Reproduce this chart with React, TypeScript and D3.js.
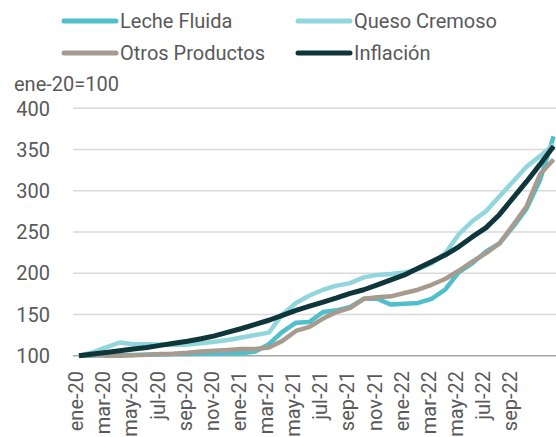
import React, { useEffect, useRef } from 'react';
import * as d3 from 'd3';

// meses ene-20 .. dic-22
const months = [
  'ene-20', 'feb-20', 'mar-20', 'abr-20', 'may-20', 'jun-20', 'jul-20', 'ago-20', 'sep-20', 'oct-20', 'nov-20', 'dic-20',
  'ene-21', 'feb-21', 'mar-21', 'abr-21', 'may-21', 'jun-21', 'jul-21', 'ago-21', 'sep-21', 'oct-21', 'nov-21', 'dic-21',
  'ene-22', 'feb-22', 'mar-22', 'abr-22', 'may-22', 'jun-22', 'jul-22', 'ago-22', 'sep-22', 'oct-22', 'nov-22', 'dic-22',
];

// etiquetas del eje x (cada dos meses, hasta sep-22 como en el original)
const xTickLabels = [
  'ene-20', 'mar-20', 'may-20', 'jul-20', 'sep-20', 'nov-20',
  'ene-21', 'mar-21', 'may-21', 'jul-21', 'sep-21', 'nov-21',
  'ene-22', 'mar-22', 'may-22', 'jul-22', 'sep-22',
];

const lecheFluida = [
  100, 100, 101, 101, 101, 101.5, 101.5, 102, 102, 102.5, 102.5, 103,
  103, 105, 114, 129, 140, 141, 153, 155, 159, 169, 169, 162,
  163, 164, 169, 180, 201, 212, 226, 236, 256, 278, 313, 366,
];
const quesoCremoso = [
  100, 104, 110, 116, 114, 114, 113.5, 113, 113.5, 115, 117, 119,
  122, 125, 128, 150, 164, 173, 180, 185, 188, 195, 198, 199,
  201, 205, 212, 224, 247, 263, 275, 293, 311, 329, 342, 356,
];
const otrosProductos = [
  100, 101, 100, 100, 100.5, 101, 102, 102.5, 103.5, 105, 106, 107,
  108, 108, 110, 118, 130, 135, 145, 153, 158, 169, 171, 172,
  176, 180, 186, 193, 203, 214, 224, 236, 258, 281, 320, 338,
];
const inflacion = [
  100, 102, 104, 106, 108, 110, 112.5, 115, 117.5, 120.5, 124, 128.5,
  133, 138, 143, 149, 155, 160, 165, 170, 175.5, 180, 186, 192,
  198, 206, 214, 222, 232, 244, 255, 271, 291, 311, 332, 354,
];

const seriesNames = ['Leche Fluida', 'Queso Cremoso', 'Otros Productos', 'Inflación'];
const seriesColors = ['#4FBFCC', '#91D6DD', '#A69B8E', '#0F363B'];
const yTicks = [100, 150, 200, 250, 300, 350, 400];

const App = () => {
  const svgRef = useRef(null);

  useEffect(() => {
    const svg = d3.select(svgRef.current);
    svg.selectAll('*').remove();

    const font = 'Roboto, "Noto Sans", sans-serif';
    const textColor = '#595959';
    const x = d3.scalePoint<string>().domain(months).range([79, 553.6]);
    const y = d3.scaleLinear().domain([100, 400]).range([355.7, 108.3]);
    const plotLeft = 73;
    const plotRight = 600;

    // grid
    svg.append('g')
      .selectAll('line')
      .data(yTicks.filter(t => t > 100))
      .join('line')
      .attr('x1', plotLeft)
      .attr('x2', plotRight)
      .attr('y1', d => y(d))
      .attr('y2', d => y(d))
      .attr('stroke', '#D9D9D9')
      .attr('stroke-width', 1.5);

    // y labels
    svg.append('g')
      .selectAll('text')
      .data(yTicks)
      .join('text')
      .attr('x', 50)
      .attr('y', d => y(d))
      .attr('dy', '0.36em')
      .attr('text-anchor', 'end')
      .attr('font-family', font)
      .attr('font-size', 20)
      .attr('fill', textColor)
      .text(d => d);

    svg.append('text')
      .attr('x', 14)
      .attr('y', 91)
      .attr('font-family', font)
      .attr('font-size', 20)
      .attr('fill', textColor)
      .text('ene-20=100');

    // x axis
    svg.append('line')
      .attr('x1', plotLeft)
      .attr('x2', plotRight)
      .attr('y1', y(100))
      .attr('y2', y(100))
      .attr('stroke', '#A6A6A6')
      .attr('stroke-width', 1.5);

    svg.append('g')
      .selectAll('text')
      .data(xTickLabels)
      .join('text')
      .attr('transform', d => `translate(${x(d)! - 3},371) rotate(-90)`)
      .attr('dy', '0.36em')
      .attr('text-anchor', 'end')
      .attr('font-family', font)
      .attr('font-size', 20)
      .attr('fill', textColor)
      .text(d => d);

    // lines
    const data = [lecheFluida, quesoCremoso, otrosProductos, inflacion];
    const line = d3.line<number>()
      .x((_, i) => x(months[i])!)
      .y(d => y(d));

    data.forEach((vals, k) => {
      svg.append('path')
        .datum(vals)
        .attr('fill', 'none')
        .attr('stroke', seriesColors[k])
        .attr('stroke-width', k === 3 ? 5 : 4.5)
        .attr('stroke-linejoin', 'round')
        .attr('d', line);
    });

    // legend
    const legendPos = [
      { x: 64, y: 21 },
      { x: 298, y: 21 },
      { x: 64, y: 53 },
      { x: 298, y: 53 },
    ];
    const lg = svg.append('g');
    seriesNames.forEach((name, k) => {
      const p = legendPos[k];
      lg.append('line')
        .attr('x1', p.x)
        .attr('x2', p.x + 52)
        .attr('y1', p.y)
        .attr('y2', p.y)
        .attr('stroke', seriesColors[k])
        .attr('stroke-width', 5)
        .attr('stroke-linecap', 'round');
      lg.append('text')
        .attr('x', p.x + 56)
        .attr('y', p.y)
        .attr('dy', '0.36em')
        .attr('font-family', font)
        .attr('font-size', 20)
        .attr('fill', textColor)
        .text(name);
    });
  }, []);

  return (
    <svg
      ref={svgRef}
      width={556}
      height={437}
      style={{ position: 'absolute', left: 0, top: 0, background: '#fff' }}
    />
  );
};

export default App;
